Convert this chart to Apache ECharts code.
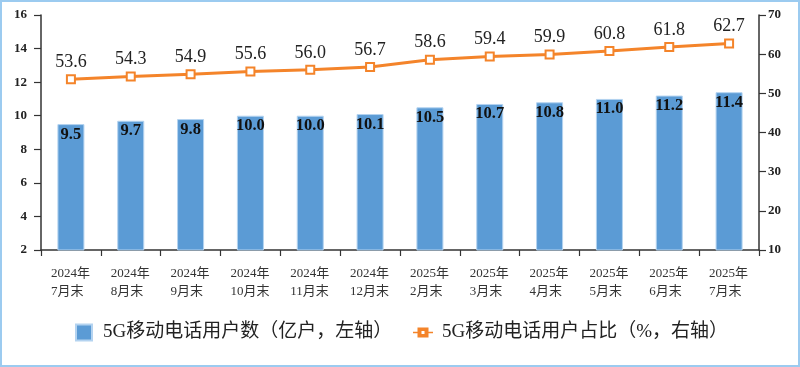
<!DOCTYPE html>
<html><head><meta charset="utf-8">
<script src="https://cdn.jsdelivr.net/npm/echarts@6/dist/echarts.min.js"></script>
<style>
html,body{margin:0;padding:0;background:#fff;}
#wrap{width:800px;height:367px;box-sizing:border-box;border:2px solid #9CCBF0;position:relative;}
#c{position:absolute;left:-2px;top:-2px;width:800px;height:367px;}
</style></head>
<body><div id="wrap"><div id="c"></div></div>
<script>
const categories = ['2024年\n7月末','2024年\n8月末','2024年\n9月末','2024年\n10月末','2024年\n11月末','2024年\n12月末','2025年\n2月末','2025年\n3月末','2025年\n4月末','2025年\n5月末','2025年\n6月末','2025年\n7月末'];
const users = [9.5, 9.7, 9.8, 10.0, 10.0, 10.1, 10.5, 10.7, 10.8, 11.0, 11.2, 11.4];
const share = [53.6, 54.3, 54.9, 55.6, 56.0, 56.7, 58.6, 59.4, 59.9, 60.8, 61.8, 62.7];
const barName = '5G移动电话用户数（亿户，左轴）';
const lineName = '5G移动电话用户占比（%，右轴）';

const serif = '"Liberation Serif", "Noto Sans CJK SC", serif';
const lineIcon = 'path://M0 4.2h4.5v1.6h-4.5z M15.5 4.2h4.5v1.6h-4.5z M4.5 0h11v10h-11z M8.5 3.5v3h3v-3z';
const chart = echarts.init(document.getElementById('c'), null, {renderer:'canvas'});
chart.setOption({
  animation:false,
  backgroundColor:'transparent',
  grid:{left:41,right:41,top:15,bottom:117,containLabel:false},
  legend:[{
    left:75, top:323, padding:0, itemWidth:16, itemHeight:16,
    textStyle:{fontFamily:serif, fontSize:19, color:'#222', padding:[0,0,0,6]},
    data:[{name:barName, icon:'rect'}]
  },{
    left:413, top:323, padding:0, itemWidth:20, itemHeight:16,
    textStyle:{fontFamily:serif, fontSize:19, color:'#222', padding:[0,0,0,4]},
    data:[{name:lineName, icon:lineIcon, itemStyle:{color:'#F4842A',borderWidth:0}}]
  }],
  xAxis:{
    type:'category', data:categories, boundaryGap:true,
    axisLine:{lineStyle:{color:'#333',width:1.5}},
    axisTick:{show:true,alignWithLabel:false,length:6,lineStyle:{color:'#333',width:1.2}},
    axisLabel:{
      interval:0, margin:15,
      formatter:function(v){const p=v.split('\n');return '{a|'+p[0]+'}\n{a|'+p[1]+'}';},
      rich:{a:{fontFamily:serif,fontSize:13,color:'#333',width:40,align:'left',lineHeight:18}}
    }
  },
  yAxis:[{
    type:'value', min:2, max:16, interval:2, position:'left',
    axisLine:{show:true,lineStyle:{color:'#333',width:1.5}},
    axisTick:{show:true,length:7,lineStyle:{color:'#333',width:1.2}},
    axisLabel:{margin:14,fontFamily:serif,fontSize:13,fontWeight:'bold',color:'#222'},
    splitLine:{show:false}
  },{
    type:'value', min:10, max:70, interval:10, position:'right',
    axisLine:{show:true,lineStyle:{color:'#333',width:1.5}},
    axisTick:{show:true,length:7,lineStyle:{color:'#333',width:1.2}},
    axisLabel:{margin:9,fontFamily:serif,fontSize:13,fontWeight:'bold',color:'#222'},
    splitLine:{show:false}
  }],
  series:[{
    name:barName, type:'bar', data:users, yAxisIndex:0, barWidth:27,
    itemStyle:{color:'#5B9BD5',borderColor:'#B4D3F0',borderWidth:1},
    label:{show:true,position:'insideTop',distance:2,fontFamily:serif,fontSize:16.5,fontWeight:'bold',color:'#111',
      formatter:function(p){return p.value.toFixed(1);}}
  },{
    name:lineName, type:'line', data:share, yAxisIndex:1,
    symbol:'rect', symbolSize:8, showAllSymbol:true,
    lineStyle:{color:'#F4842A',width:3},
    itemStyle:{color:'#fff',borderColor:'#F4842A',borderWidth:2},
    label:{show:true,position:'top',distance:3,fontFamily:serif,fontSize:18,color:'#222',
      formatter:function(p){return p.value.toFixed(1);}}
  }]
});
</script></body></html>
